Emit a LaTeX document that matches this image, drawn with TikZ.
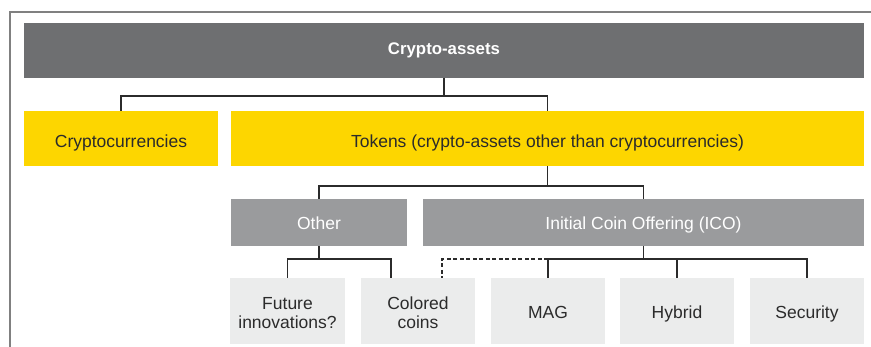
\documentclass[tikz,border=0pt]{standalone}
\usepackage{fontspec}
\setmainfont{Liberation Sans}
\usetikzlibrary{calc}
\definecolor{darkbox}{HTML}{6E6F71}
\definecolor{ybox}{HTML}{FDD600}
\definecolor{midbox}{HTML}{9A9B9D}
\definecolor{lightbox}{HTML}{EBECEC}
\definecolor{txt}{HTML}{2B2B2B}
\definecolor{framec}{HTML}{808080}
\newcommand{\twolines}[2]{\begin{tabular}[t]{@{}c@{}}#1\\#2\end{tabular}}
\tikzset{
  base/.style={inner sep=0pt, outer sep=0pt, font=\fontsize{17.5}{19}\selectfont},
  topbox/.style={base, fill=darkbox, text=white, font=\fontsize{16.8}{19}\selectfont\bfseries,
    text height=8pt, text depth=0pt},
  yelbox/.style={base, fill=ybox, text=txt, minimum height=55pt, text height=18pt, text depth=0pt},
  midgray/.style={base, fill=midbox, text=white, minimum height=47pt, text height=13.5pt, text depth=0pt},
  leafbox/.style={base, fill=lightbox, text=txt, minimum height=66pt, minimum width=114pt},
  leaftwo/.style={leafbox, text height=0pt, text depth=2.6pt},
  leafone/.style={leafbox, text height=14.6pt, text depth=0pt},
  conn/.style={draw=txt, line width=1.5pt},
}
\begin{document}
\begin{tikzpicture}[x=1pt,y=-1pt]
\useasboundingbox (0,0) rectangle (871,347);
\draw[framec, line width=2pt] (871,12) -- (10,12) -- (10,347);

\node[topbox, minimum width=840pt, minimum height=55pt] (ca) at (444,50.5) {Crypto-assets};
\node[yelbox, minimum width=194pt] (cc) at (121,138.5) {Cryptocurrencies};
\node[yelbox, minimum width=633pt] (tok) at (547.5,138.5) {Tokens (crypto-assets other than cryptocurrencies)};
\node[midgray, minimum width=176pt] (oth) at (319,222.5) {Other};
\node[midgray, minimum width=441pt] (ico) at (643.5,222.5) {Initial Coin Offering (ICO)};
\node[leaftwo, minimum width=115pt] (fut) at (287.5,311) {\twolines{Future}{innovations?}};
\node[leaftwo] (col) at (418,311) {\twolines{Colored}{coins}};
\node[leafone] (mag) at (548,311) {MAG};
\node[leafone] (hyb) at (677,311) {Hybrid};
\node[leafone] (sec) at (807,311) {Security};

% connectors
\path (ca.south) ++(0,18) coordinate (j1);
\draw[conn] (ca.south) -- (j1);
\draw[conn] (j1) -| (cc.north);
\draw[conn] (j1) -| (tok.north);

\path (tok.south) ++(0,20) coordinate (j2);
\draw[conn] (tok.south) -- (j2);
\draw[conn] (j2) -| (oth.north);
\draw[conn] (j2) -| (ico.north);

\path (oth.south) ++(0,13) coordinate (j3);
\draw[conn] (oth.south) -- (j3);
\draw[conn] (j3) -| (fut.north);
\draw[conn] (j3) -| ([xshift=-27pt]col.north);

\path (ico.south) ++(0,13) coordinate (j4);
\draw[conn] (ico.south) -- (j4);
\draw[conn] (j4) -| (mag.north);
\draw[conn] (j4) -| (hyb.north);
\draw[conn] (j4) -| (sec.north);
\draw[conn, dash pattern=on 4pt off 2.5pt] (mag.north |- j4) -| ([xshift=24pt]col.north);
\end{tikzpicture}
\end{document}
